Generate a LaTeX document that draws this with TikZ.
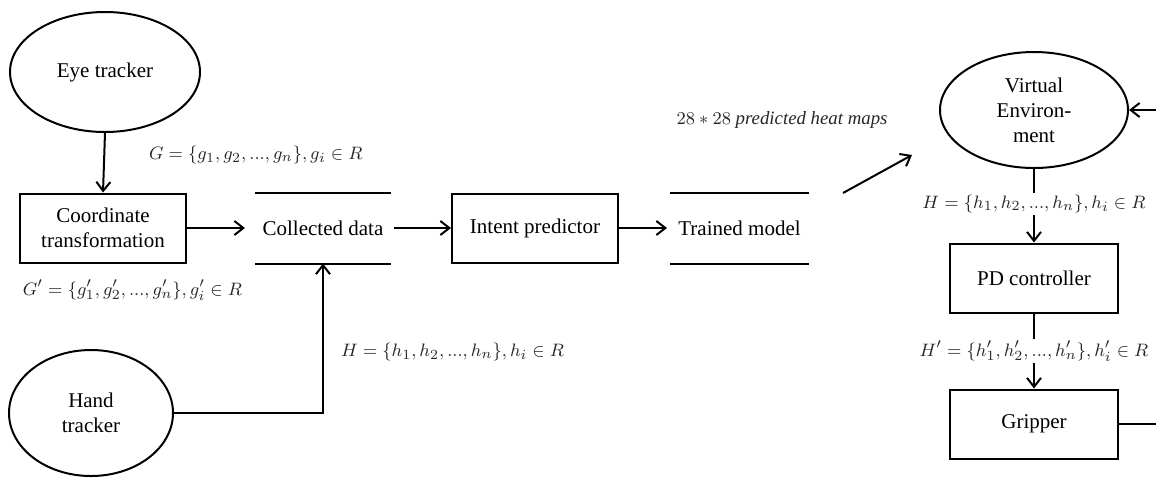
\documentclass[tikz,border=0pt]{standalone}
\usepackage{fontspec}
\setmainfont{Liberation Serif}
\usetikzlibrary{shapes.geometric,arrows.meta}
\begin{document}
\begin{tikzpicture}[x=0.5pt,y=-0.5pt,
  font=\fontsize{10.5}{12.5}\selectfont,
  every path/.style={line width=1pt},
  oval/.style={ellipse,draw,line width=1pt,inner sep=0pt,align=center},
  blk/.style={rectangle,draw,line width=1pt,minimum width=83pt,minimum height=34.5pt,align=center,inner sep=0pt},
  store/.style={minimum width=67pt,minimum height=34.5pt,inner sep=0pt,align=center},
  lbl/.style={text=black!85,inner sep=1pt,font=\fontsize{9.4}{11}\selectfont},
  arr/.style={-{Straight Barb[length=4.5pt,width=7pt,line width=1pt]}}]
\useasboundingbox (0,0) rectangle (1156,478);
% nodes
\node[oval,minimum width=95pt,minimum height=60pt] (eye) at (105,72) {Eye tracker};
\node[blk] (coord) at (103,228) {Coordinate\\transformation};
\node[store] (coll) at (323,228) {Collected data};
\node[blk] (intent) at (535,228) {Intent predictor};
\node[store,minimum width=68.5pt] (trained) at (739.5,228) {Trained model};
\node[oval,minimum width=94pt,minimum height=58pt] (ve) at (1034,110) {Virtual\\Environ-\\ment};
\node[blk,minimum width=84pt] (pd) at (1034,278) {PD controller};
\node[blk,minimum width=84pt] (grip) at (1034,424) {Gripper};
\node[oval,minimum width=82pt,minimum height=63pt] (hand) at (91,413) {Hand\\tracker};
% store lines
\draw (coll.north west) -- (coll.north east);
\draw (coll.south west) -- (coll.south east);
\draw (trained.north west) -- (trained.north east);
\draw (trained.south west) -- (trained.south east);
% coordinates
\coordinate (hm1) at (843,193);
\coordinate (hm2) at (912,155);
\coordinate (edgeT) at (1160,110);
\coordinate (edgeB) at (1160,424);
% connectors
\draw[arr] (eye.south) -- (coord.north);
\draw[arr] (coord.east) -- ([xshift=-5pt]coll.west);
\draw[arr] ([xshift=1.5pt]coll.east) -- (intent.west);
\draw[arr] (intent.east) -- ([xshift=-1.5pt]trained.west);
\draw[arr] (hm1) -- (hm2);
\draw[arr] (hand.east) -| (coll.south);
\draw[arr] (ve.south) -- (pd.north) node[pos=0.47,fill=white,lbl] (hl) {$H=\{h_1,h_2,...,h_n\},h_i\in R$};
\draw[arr] (pd.south) -- (grip.north) node[pos=0.5,fill=white,lbl] (hpl) {$H'=\{h'_1,h'_2,...,h'_n\},h'_i\in R$};
\draw (grip.east) -- (edgeB);
\draw[arr] (edgeT) -- (ve.east);
% labels
\node[lbl,anchor=west] (gl) at (146,155) {$G=\{g_1,g_2,...,g_n\},g_i\in R$};
\node[lbl,anchor=west] (gpl) at (20,290) {$G'=\{g'_1,g'_2,...,g'_n\},g'_i\in R$};
\node[lbl,anchor=west] (hl2) at (338,352) {$H=\{h_1,h_2,...,h_n\},h_i\in R$};
\node[lbl] (heat) at (782,120) {$28*28$ \textit{predicted heat maps}};
\end{tikzpicture}
\end{document}
